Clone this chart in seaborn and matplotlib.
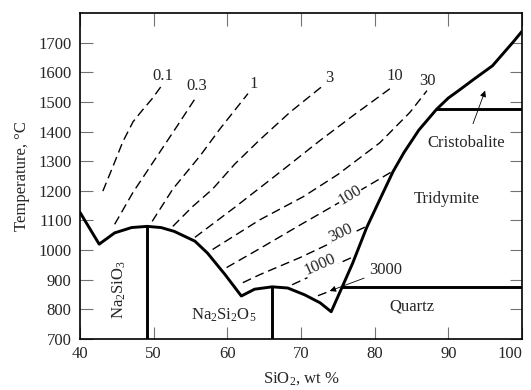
import numpy as np
import pandas as pd
import matplotlib
matplotlib.use("Agg")
import matplotlib.pyplot as plt
import seaborn as sns

# liquidus (thick solid line)
liq_x = [40, 42.6, 44.7, 47.0, 49.1, 51.0, 52.8, 55.6, 57.3, 59.7, 61.9,
         63.7, 66.1, 68.2, 70.5, 72.6, 74.1,
         75.6, 77.0, 78.9, 80.5, 82.5, 84.0, 86.0, 88.4, 90.0, 91.5, 93.5,
         96.0, 98.8, 100]
liq_t = [1127, 1020, 1058, 1076, 1080, 1076, 1063, 1030, 990, 917, 845,
         868, 876, 872, 849, 822, 792,
         876, 955, 1075, 1160, 1265, 1330, 1405, 1475, 1513, 1540, 1577,
         1622, 1702, 1738]

# compound / polymorph boundaries
na2sio3_x, na2sio3_top = 49.1, 1080
na2si2o5_x, na2si2o5_top = 66.1, 876
cristo_t, cristo_x0 = 1475, 88.4
quartz_t, quartz_x0 = 876, 75.6

# dashed iso-lines, label -> (x, T)
iso = {
    "0.1": ([43.1, 44.5, 45.8, 47.2, 48.4, 49.8, 51.0],
            [1199, 1284, 1365, 1433, 1470, 1511, 1552]),
    "0.3": ([44.7, 47.2, 50.2, 53.2, 55.7],
            [1087, 1195, 1307, 1419, 1514]),
    "1": ([49.8, 52.6, 56.3, 59.0, 62.8],
          [1097, 1206, 1318, 1409, 1528]),
    "3": ([52.6, 55.2, 58.0, 61.0, 64.4, 68.5, 73.0],
          [1080, 1145, 1206, 1290, 1372, 1465, 1555]),
    "10": ([55.6, 61.0, 67.1, 72.6, 77.3, 82.1],
           [1043, 1144, 1262, 1370, 1458, 1545]),
    "30": ([58.0, 64.4, 70.3, 75.0, 80.7, 84.8, 87.1],
           [1002, 1102, 1180, 1255, 1362, 1465, 1538]),
    "100": ([59.9, 64.4, 69.9, 73.9, 78.9, 82.5],
            [941, 1005, 1085, 1142, 1214, 1267]),
    "300": ([62.1, 64.4, 69.9, 73.9, 76.6, 78.9],
            [890, 917, 975, 1022, 1053, 1080]),
    "1000": ([68.8, 72.6, 76.9],
             [883, 927, 975]),
    "3000": ([72.3, 74.6],
             [846, 868]),
}

# label positions for the top group
top_labels = {"0.1": (51.3, 1589), "0.3": (55.9, 1555), "1": (63.6, 1562),
              "3": (73.9, 1582), "10": (82.7, 1589), "30": (87.1, 1569)}
# inline labels (x, T, rotation)
inline_labels = {"100": (76.6, 1185, 31), "300": (75.4, 1058, 25),
                 "1000": (72.6, 951, 24)}

sns.set_style("ticks")
plt.rcParams['font.family'] = ['Liberation Serif', 'DejaVu Serif']
plt.rcParams['mathtext.fontset'] = 'custom'
plt.rcParams['mathtext.rm'] = 'Liberation Serif'
plt.rcParams['mathtext.it'] = 'Liberation Serif:italic'

fig = plt.figure(figsize=(5.31, 3.90), dpi=100)
ax = fig.add_axes([0.1507, 0.1308, 0.983 - 0.1507, 0.9667 - 0.1308])

dash = (0, (6.5, 3.5))
for name, (xs, ts) in iso.items():
    d = pd.DataFrame({"x": xs, "T": ts})
    sns.lineplot(data=d, x="x", y="T", sort=False, estimator=None, ax=ax,
                 color="black", lw=1.0, linestyle=dash)

liq = pd.DataFrame({"x": liq_x, "T": liq_t})
sns.lineplot(data=liq, x="x", y="T", sort=False, estimator=None, ax=ax,
             color="black", lw=2.1)

ax.plot([na2sio3_x, na2sio3_x], [700, na2sio3_top], color="black", lw=2.1)
ax.plot([na2si2o5_x, na2si2o5_x], [700, na2si2o5_top], color="black", lw=2.1)
ax.plot([cristo_x0, 100], [cristo_t, cristo_t], color="black", lw=2.1)
ax.plot([quartz_x0, 100], [quartz_t, quartz_t], color="black", lw=2.1)

fs = 12
for lab, (x, t) in top_labels.items():
    ax.text(x, t, lab, fontsize=fs, ha="center", va="center")
for lab, (x, t, r) in inline_labels.items():
    ax.text(x, t, lab, fontsize=fs, ha="center", va="center", rotation=r,
            rotation_mode="anchor",
            bbox=dict(fc="white", ec="none", pad=0.3))

ax.annotate("3000", xy=(73.9, 862), xytext=(79.2, 932), fontsize=fs,
            ha="left", va="center",
            arrowprops=dict(arrowstyle="-|>", color="black", lw=0.6,
                            mutation_scale=9, shrinkA=1, shrinkB=0))
ax.annotate("Cristobalite", xy=(95.0, 1538), xytext=(92.4, 1362),
            fontsize=fs, ha="center", va="center",
            arrowprops=dict(arrowstyle="-|>", color="black", lw=0.6,
                            mutation_scale=9, shrinkA=6, shrinkB=0))
ax.text(89.8, 1172, "Tridymite", fontsize=fs, ha="center", va="center")
ax.text(85.0, 809, "Quartz", fontsize=fs, ha="center", va="center")
ax.text(45.3, 866, r"Na$_2$SiO$_3$", fontsize=fs, ha="center", va="center",
        rotation=90)
ax.text(59.5, 781, r"Na$_2$Si$_2$O$_5$", fontsize=fs, ha="center",
        va="center")

ax.set_xlim(40, 100)
ax.set_ylim(700, 1800)
ax.set_xticks(np.arange(40, 101, 10))
ax.set_yticks(np.arange(700, 1701, 100))
ax.tick_params(direction="in", length=9, width=0.8, color="0.45",
               labelsize=fs, top=True, right=True, pad=5)
ax.tick_params(axis="y", pad=6)
ax.get_xticklabels()[-1].set_ha("right")
for s in ax.spines.values():
    s.set_linewidth(1.2)
    s.set_color("black")

ax.set_xlabel(r"SiO$_2$, wt %", fontsize=fs, labelpad=6)
ax.set_ylabel("Temperature, °C", fontsize=fs, labelpad=6)

fig.savefig("out.png", dpi=100)
